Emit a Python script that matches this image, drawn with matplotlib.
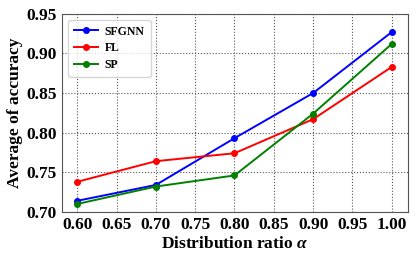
import matplotlib
matplotlib.use("Agg")
from matplotlib import pyplot as plt

# values
ratio = [0.6, 0.7, 0.8, 0.9, 1.0]
sfgnn = [0.714, 0.734, 0.793, 0.850, 0.927]
fl = [0.738, 0.764, 0.774, 0.817, 0.883]
sp = [0.710, 0.732, 0.746, 0.824, 0.912]
xticks = [0.60, 0.65, 0.70, 0.75, 0.80, 0.85, 0.90, 0.95, 1.00]
yticks = [0.70, 0.75, 0.80, 0.85, 0.90, 0.95]

plt.rcParams['font.family'] = ['Liberation Serif', 'DejaVu Serif']
plt.rcParams['font.weight'] = 'bold'
plt.rcParams['mathtext.fontset'] = 'custom'
plt.rcParams['mathtext.it'] = 'Liberation Serif:bold:italic'
plt.rcParams['mathtext.rm'] = 'Liberation Serif:bold'
plt.rcParams['mathtext.bf'] = 'Liberation Serif:bold'

fig, ax = plt.subplots(figsize=(4.15, 2.6), dpi=100)
fig.subplots_adjust(left=0.15, right=0.982, top=0.947, bottom=0.185)

ax.plot(ratio, sfgnn, color='blue', marker='o', markersize=4, linewidth=1.4, label='SFGNN')
ax.plot(ratio, fl, color='red', marker='o', markersize=4, linewidth=1.4, label='FL')
ax.plot(ratio, sp, color='green', marker='o', markersize=4, linewidth=1.4, label='SP')

ax.set_xlim(0.581, 1.02)
ax.set_ylim(0.70, 0.95)
ax.set_xticks(xticks)
ax.set_yticks(yticks)
ax.set_xticklabels(['%.2f' % v for v in xticks], fontsize=12.5, fontweight='bold')
ax.set_yticklabels(['%.2f' % v for v in yticks], fontsize=12.5, fontweight='bold')
ax.tick_params(length=0, pad=4)
ax.grid(True, color='#555555', linestyle=':', linewidth=0.8)
for s in ax.spines.values():
    s.set_color('#555555')

ax.set_xlabel(r'Distribution ratio $\alpha$', fontsize=12.5, fontweight='bold', labelpad=2)
ax.set_ylabel('Average of accuracy', fontsize=12.5, fontweight='bold', labelpad=2)

leg = ax.legend(loc='upper left', prop={'family': 'Liberation Serif', 'weight': 'bold', 'size': 8.5},
                handlelength=2.0, handletextpad=0.6, borderpad=0.5, labelspacing=0.4)

fig.savefig('out.png', dpi=100)
